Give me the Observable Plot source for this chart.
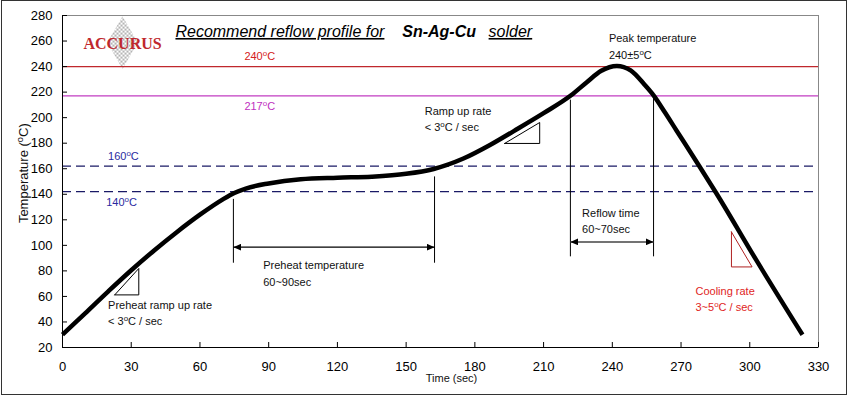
<!DOCTYPE html>
<html><head><meta charset="utf-8">
<script src="https://cdn.jsdelivr.net/npm/d3@7"></script>
<script src="https://cdn.jsdelivr.net/npm/@observablehq/plot@0.6"></script>
<style>
body{margin:0;background:#fff;}
#wrap{position:relative;width:848px;height:396px;overflow:hidden;}
#border{position:absolute;left:1px;top:0px;width:846px;height:395px;border:1px solid #333;box-sizing:border-box;pointer-events:none;}
</style></head><body><div id="wrap"><div id="border"></div></div>
<script>
// Reflow profile (time in sec, temperature in °C)
const profileTime = [0,10,20,30,40,50,60,70,75,80,90,104,120,135,150,162,175,187,197,210,222,229,235,242,248,254,258,263,268,278,285,303,323];
const profileTemp = [30,47,64,80.5,96,110.5,124,136,141,144.5,148.5,151.8,153,153.8,156,159.8,168,179,189.5,203.5,217.5,228,236.5,240.5,237,226,217.5,204,190,162,142,88,30];

const xTickValues = [0,30,60,90,120,150,180,210,240,270,300,330];
const yTickValues = [20,40,60,80,100,120,140,160,180,200,220,240,260,280];

const peakLimit = [240];
const liquidusLine = [217];
const soakLines = [162, 142];

// vertical zone markers
const zoneTime = [74.6, 162.4, 221.7, 258];
const zoneLow  = [86, 86, 91, 91];
const zoneHigh = [136, 153.6, 213.7, 216];

// double arrows
const preheatSpan = {from: 74.6, to: 162.4, at: 98.6};
const reflowSpan  = {from: 221.7, to: 258, at: 102.7};

// slope triangles (vertices)
const preheatTriangle = [[22.8,61.2],[33.3,61.2],[33.3,81.9],[22.8,61.2]];
const rampTriangle    = [[193,179.8],[208.3,179.8],[208.3,196.2],[193,179.8]];
const coolTriangle    = [[292,110.5],[292,83.1],[301,83.1],[292,110.5]];

// labels
const lineLabels = [
  {t: 86.1, temp: 248.1, text: "240^oC"},
  {t: 86.1, temp: 209,   text: "217^oC"},
  {t: 26.6, temp: 169.3, text: "160^oC"},
  {t: 25.8, temp: 133.3, text: "140^oC"}
];
const notes = [
  {t: 238.5, temp: 256.7, text: "Peak temperature\n240±5^oC"},
  {t: 158.1, temp: 200,   text: "Ramp up rate\n< 3^oC / sec"},
  {t: 19.9,  temp: 47.9,  text: "Preheat ramp up rate\n< 3^oC / sec"},
  {t: 87.6,  temp: 79,    text: "Preheat temperature\n60~90sec"},
  {t: 226.8, temp: 120.1, text: "Reflow time\n60~70sec"}
];
const coolingNote = [{t: 276.3, temp: 59, text: "Cooling rate\n3~5^oC / sec"}];
const titleParts = [
  {t: 49.3,  temp: 267.2, text: "Recommend reflow profile for"},
  {t: 148.3, temp: 267.2, text: "Sn-Ag-Cu"},
  {t: 186,   temp: 267.2, text: "solder"}
];
const logo = {t: 26.2, temp: 258, text: "ACCURUS"};
const axisTitles = {x: {t: 169.8, temp: -4, text: "Time (sec)"}, y: {t: -16.9, temp: 156.5, text: "Temperature (^oC)"}};

const curve = profileTime.map((t, i) => ({t, temp: profileTemp[i]}));
const zones = zoneTime.map((t, i) => ({t, lo: zoneLow[i], hi: zoneHigh[i]}));
const tri = (pts, id) => pts.map(([t, temp]) => ({t, temp, id}));
const F = "Liberation Sans, Arial, sans-serif";

const plot = Plot.plot({
  width: 848, height: 396,
  marginLeft: 62, marginRight: 30, marginTop: 15, marginBottom: 49,
  x: {domain: [0, 330]},
  y: {domain: [20, 280]},
  style: {fontFamily: F, fontSize: "13px", background: "transparent", color: "#000"},
  marks: [
    Plot.frame({stroke: "#888"}),
    Plot.dot([logo], {x: "t", y: "temp", symbol: "diamond", r: 16, fill: "url(#chk)", stroke: "none", dy: -1}),
    Plot.text([logo], {x: "t", y: "temp", text: "text", fill: "#c0282d", fontFamily: "Liberation Serif, Times New Roman, serif", fontWeight: "bold", fontSize: 16}),
    Plot.ruleY(peakLimit, {stroke: "#c0282d", strokeWidth: 1.2}),
    Plot.ruleY(liquidusLine, {stroke: "#c23cc2", strokeWidth: 1.2}),
    Plot.ruleY(soakLines, {stroke: "#1a1a66", strokeWidth: 1.2, strokeDasharray: "9,5"}),
    Plot.ruleX(zones, {x: "t", y1: "lo", y2: "hi", stroke: "#000", strokeWidth: 1}),
    Plot.link([preheatSpan], {x1: "from", x2: "to", y1: "at", y2: "at", stroke: "#000", strokeWidth: 1.2}),
    Plot.link([reflowSpan], {x1: "from", x2: "to", y1: "at", y2: "at", stroke: "#444", strokeWidth: 1.5}),
    Plot.line(tri(preheatTriangle, "a").concat(tri(rampTriangle, "b")), {x: "t", y: "temp", z: "id", stroke: "#000", strokeWidth: 1, curve: "linear", strokeLinejoin: "miter"}),
    Plot.line(tri(coolTriangle, "c"), {x: "t", y: "temp", stroke: "#b02020", strokeWidth: 1, strokeLinejoin: "miter"}),
    Plot.line(curve, {x: "t", y: "temp", curve: "monotone-x", stroke: "#000", strokeWidth: 4.5, strokeLinecap: "butt"}),
    Plot.text(lineLabels.slice(0,1), {x: "t", y: "temp", text: "text", fill: "#d42020", fontSize: 11}),
    Plot.text(lineLabels.slice(1,2), {x: "t", y: "temp", text: "text", fill: "#c030c0", fontSize: 11}),
    Plot.text(lineLabels.slice(2), {x: "t", y: "temp", text: "text", fill: "#2a2aa0", fontSize: 11}),
    Plot.text(notes, {x: "t", y: "temp", text: "text", textAnchor: "start", fill: "#111", fontSize: 11, lineHeight: 1.48}),
    Plot.text(coolingNote, {x: "t", y: "temp", text: "text", textAnchor: "start", fill: "#e02424", fontSize: 11, lineHeight: 1.48}),
    Plot.text(titleParts.slice(0,1), {x: "t", y: "temp", text: "text", textAnchor: "start", fontSize: 16, fontStyle: "italic", fill: "#000"}),
    Plot.text(titleParts.slice(1,2), {x: "t", y: "temp", text: "text", textAnchor: "start", fontSize: 16, fontStyle: "italic", fontWeight: "bold", fill: "#000"}),
    Plot.text(titleParts.slice(2), {x: "t", y: "temp", text: "text", textAnchor: "start", fontSize: 16, fontStyle: "italic", fill: "#000"}),
    Plot.text([axisTitles.x], {x: "t", y: "temp", text: "text", fontSize: 11, fill: "#111"}),
    Plot.text([axisTitles.y], {x: "t", y: "temp", text: "text", fontSize: 13, rotate: -90, fill: "#111"}),
    Plot.axisX({ticks: xTickValues, tickSize: -5, tickPadding: 19, label: null, fontSize: 13}),
    Plot.axisY({ticks: yTickValues, tickSize: -5, tickPadding: 15, label: null, fontSize: 13}),
    Plot.ruleX([0], {stroke: "#000"}),
    Plot.ruleY([20], {stroke: "#000"})
  ]
});

const svg = d3.select(plot);
const defs = svg.insert("defs", ":first-child");
const pat = defs.append("pattern").attr("id", "chk").attr("patternUnits", "userSpaceOnUse").attr("width", 4).attr("height", 4);
pat.append("rect").attr("width", 4).attr("height", 4).attr("fill", "#fff");
pat.append("rect").attr("width", 2).attr("height", 2).attr("fill", "#b4b4b4");
pat.append("rect").attr("x", 2).attr("y", 2).attr("width", 2).attr("height", 2).attr("fill", "#b4b4b4");
defs.append("marker").attr("id", "ahead").attr("viewBox", "0 0 8 7").attr("refX", 8).attr("refY", 3.5)
  .attr("markerWidth", 8).attr("markerHeight", 7).attr("markerUnits", "userSpaceOnUse").attr("orient", "auto-start-reverse")
  .append("path").attr("d", "M0,0L8,3.5L0,7Z").attr("fill", "#000");
svg.selectAll('g[aria-label="link"] path').attr("marker-start", "url(#ahead)").attr("marker-end", "url(#ahead)");

// superscript "o" in °C labels
svg.selectAll("text, tspan").each(function() {
  const el = this;
  if ([...el.childNodes].some(n => n.nodeType === 1)) return;
  const s = el.textContent;
  if (!s.includes("^o")) return;
  const parts = s.split("^o");
  el.textContent = parts[0];
  const sup = document.createElementNS("http://www.w3.org/2000/svg", "tspan");
  sup.setAttribute("baseline-shift", "super");
  sup.setAttribute("font-size", "72%");
  sup.textContent = "o";
  el.appendChild(sup);
  el.appendChild(document.createTextNode(parts[1]));
});
svg.selectAll("text").filter(function() {
  return this.textContent === "Recommend reflow profile for" || this.textContent === "solder";
}).style("text-decoration", "underline");

document.getElementById("wrap").insertBefore(plot, document.getElementById("border"));
</script>
</body></html>
